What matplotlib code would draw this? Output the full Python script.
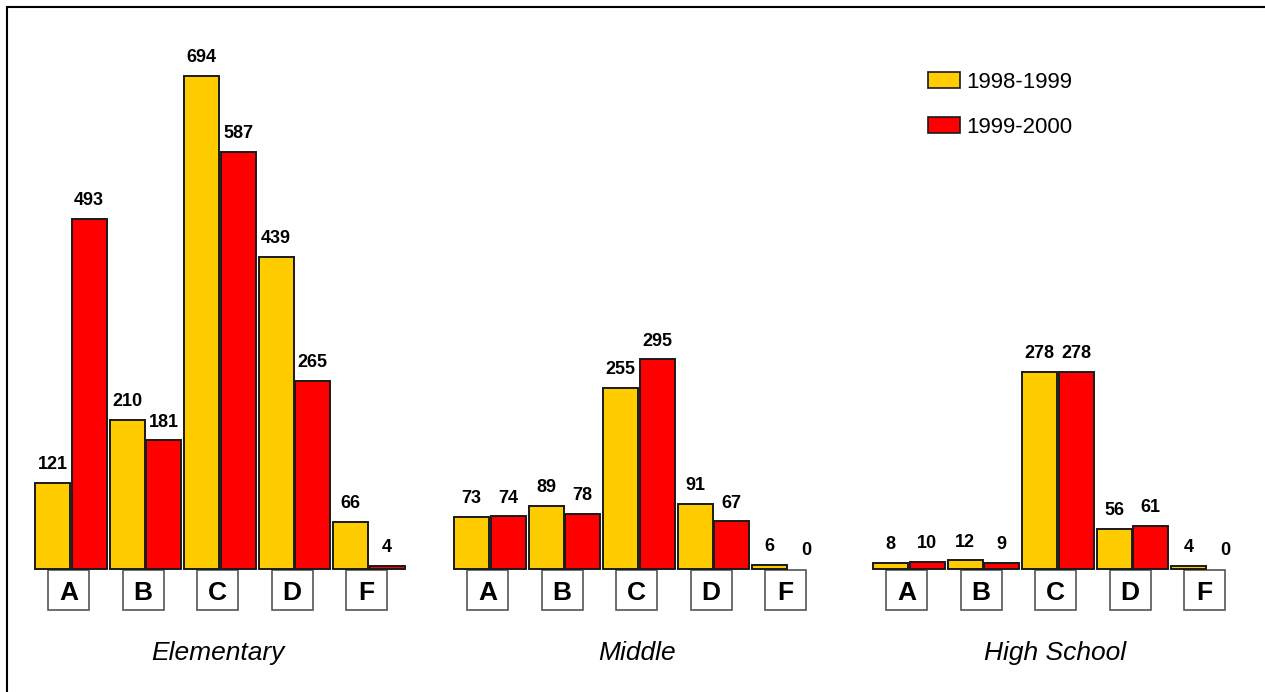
import matplotlib
matplotlib.use("Agg")
import matplotlib.pyplot as plt
from matplotlib.patches import Rectangle, Patch
import numpy as np

# data
schools = ["Elementary", "Middle", "High School"]
grades = ["A", "B", "C", "D", "F"]
y1999 = [[121, 210, 694, 439, 66],
         [73, 89, 255, 91, 6],
         [8, 12, 278, 56, 4]]
y2000 = [[493, 181, 587, 265, 4],
         [74, 78, 295, 67, 0],
         [10, 9, 278, 61, 0]]
series_names = ["1998-1999", "1999-2000"]

YELLOW = "#FFCC00"
RED = "#FF0000"
EDGE = "#1a1a1a"

plt.rcParams["font.family"] = ["Liberation Sans", "DejaVu Sans"]

W, H = 1265, 692
fig = plt.figure(figsize=(W / 100, H / 100), dpi=100)
ax = fig.add_axes([0, 0, 1, 1])
ax.set_axis_off()

# layout: 1 x-unit = one grade slot (74.5 px), baseline at 569 px
px_x = 74.5
px_y = 493 / 694
ax.set_xlim(-0.95, -0.95 + W / px_x)
ax.set_ylim(-(H - 569) / px_y, 569 / px_y)

group_gap = 419 / px_x
bar_w = 35 / px_x
off = 18.25 / px_x

for g, school in enumerate(schools):
    x = g * group_gap + np.arange(len(grades))
    for vals, color, sign in [(y1999[g], YELLOW, -1), (y2000[g], RED, 1)]:
        lws = [1.4 if v > 0 else 0 for v in vals]
        ax.bar(x + sign * off, vals, width=bar_w, color=color,
               edgecolor=EDGE, linewidth=lws, zorder=3)
        for xi, v in zip(x + sign * off, vals):
            ax.annotate(str(v), (xi, v), xytext=(0, 10), textcoords="offset points",
                        ha="center", va="baseline", fontsize=13, fontweight="bold")
    # grade boxes under each pair
    box_w = 41 / px_x
    box_h = 41 / px_y
    for xi, gr in zip(x, grades):
        ax.add_patch(Rectangle((xi - 0.03 - box_w / 2, -box_h), box_w, box_h - 1.5,
                               facecolor="white", edgecolor="#555555", linewidth=1.2, zorder=2))
        ax.text(xi - 0.03, -31 / px_y, gr, ha="center", va="baseline",
                fontsize=19, fontweight="bold")
    ax.text(x.mean() - 0.03, -91 / px_y, school, ha="center", va="baseline",
            fontsize=19, style="italic")

handles = [Patch(facecolor=YELLOW, edgecolor=EDGE, linewidth=1.2),
           Patch(facecolor=RED, edgecolor=EDGE, linewidth=1.2)]
fig.legend(handles, series_names, loc="upper left",
           bbox_to_anchor=(928 / W, 1 - 72 / H), frameon=False, fontsize=16,
           borderpad=0, borderaxespad=0, handlelength=1.45, handleheight=0.7,
           handletextpad=0.25, labelspacing=1.08)

# outer frame (left and top edges visible)
fig.patches.append(Rectangle((7 / W, -0.1), 1.2, 1.1 - 7 / H, transform=fig.transFigure,
                             fill=False, edgecolor="black", linewidth=1.5))

fig.savefig("out.png", dpi=100)
